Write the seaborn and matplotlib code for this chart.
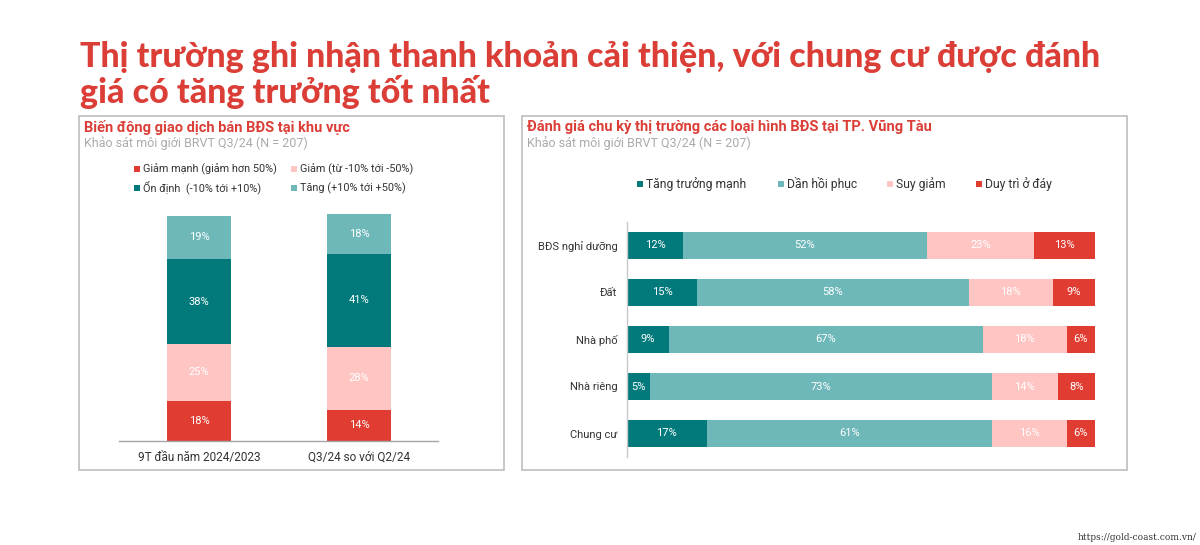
import matplotlib
matplotlib.use("Agg")
import matplotlib.pyplot as plt
import seaborn as sns
import pandas as pd
import numpy as np
from matplotlib.patches import Rectangle

# ---------------- data ----------------
left_categories = ["9T đầu năm 2024/2023", "Q3/24 so với Q2/24"]
left_series = ["Giảm mạnh (giảm hơn 50%)", "Giảm (từ -10% tới -50%)",
               "Ổn định  (-10% tới +10%)", "Tăng (+10% tới +50%)"]
left_giam_manh = [18, 14]
left_giam = [25, 28]
left_on_dinh = [38, 41]
left_tang = [19, 18]

right_categories = ["BĐS nghỉ dưỡng", "Đất", "Nhà phố", "Nhà riêng", "Chung cư"]
right_series = ["Tăng trưởng mạnh", "Dần hồi phục", "Suy giảm", "Duy trì ở đáy"]
right_tang_truong = [12, 15, 9, 5, 17]
right_hoi_phuc = [52, 58, 67, 73, 61]
right_suy_giam = [23, 18, 18, 14, 16]
right_duy_tri = [13, 9, 6, 8, 6]

title_text = "Thị trường ghi nhận thanh khoản cải thiện, với chung cư được đánh\ngiá có tăng trưởng tốt nhất"
left_title = "Biến động giao dịch bán BĐS tại khu vực"
right_title = "Đánh giá chu kỳ thị trường các loại hình BĐS tại TP. Vũng Tàu"
sub_title = "Khảo sát môi giới BRVT Q3/24 (N = 207)"
source_text = "https://gold-coast.com.vn/"

# ---------------- style ----------------
C_RED = "#E03C31"
C_PINK = "#FEC5C3"
C_DTEAL = "#027A7B"
C_LTEAL = "#6EB8BA"
C_TITLE = "#DB3E37"

sns.set_theme(style="white")
plt.rcParams["font.family"] = ["Roboto", "DejaVu Sans"]

W, H = 1200, 545
fig = plt.figure(figsize=(12, 5.45), dpi=100)
fig.patch.set_facecolor("white")


def rect(x0, y0, x1, y1):
    return [x0 / W, 1 - y1 / H, (x1 - x0) / W, (y1 - y0) / H]


def fx(x):
    return x / W


def fy(y):
    return 1 - y / H


# panel boxes
for (x0, y0, x1, y1) in [(79, 116, 504, 470), (522, 116, 1127, 470)]:
    fig.patches.append(Rectangle((fx(x0), fy(y1)), (x1 - x0) / W, (y1 - y0) / H,
                                 transform=fig.transFigure, fill=False,
                                 edgecolor="#BDBDBD", linewidth=1.2))

# main title
fig.text(fx(80), fy(41), title_text, ha="left", va="top", color=C_TITLE,
         fontsize=24.5, fontweight=900, family=["Lato", "DejaVu Sans"],
         linespacing=1.08)

# panel titles
fig.text(fx(84), fy(127), left_title, ha="left", va="center", color=C_TITLE,
         fontsize=10.5, fontweight="bold")
fig.text(fx(84), fy(143), sub_title, ha="left", va="center", color="#ABABAB",
         fontsize=9)
fig.text(fx(527), fy(127), right_title, ha="left", va="center", color=C_TITLE,
         fontsize=10.5, fontweight="bold")
fig.text(fx(527), fy(143), sub_title, ha="left", va="center", color="#ABABAB",
         fontsize=9)

fig.text(fx(1197), fy(538), source_text, ha="right", va="center", color="#333333",
         fontsize=6.5, family=["DejaVu Serif"])


def legend_item(x_marker, y, color, label, size=8):
    s = 6
    fig.patches.append(Rectangle((fx(x_marker - s / 2), fy(y + s / 2)), s / W, s / H,
                                 transform=fig.transFigure, facecolor=color,
                                 edgecolor="none"))
    fig.text(fx(x_marker + 6), fy(y), label, ha="left", va="center",
             color="#333333", fontsize=size)


left_colors = [C_RED, C_PINK, C_DTEAL, C_LTEAL]
legend_item(137, 169, left_colors[0], left_series[0], 7.8)
legend_item(294, 169, left_colors[1], left_series[1], 7.8)
legend_item(137, 188, left_colors[2], left_series[2], 7.8)
legend_item(294, 188, left_colors[3], left_series[3], 7.8)

right_colors = [C_DTEAL, C_LTEAL, C_PINK, C_RED]
for xm, c, lab in zip([640, 781, 890, 979], right_colors, right_series):
    legend_item(xm, 184, c, lab, 8.7)

# ---------------- left chart (stacked columns) ----------------
axL = fig.add_axes(rect(119, 215, 438, 441))
left_vals = [left_giam_manh, left_giam, left_on_dinh, left_tang]
cum = np.cumsum(np.array(left_vals, dtype=float), axis=0)
dfL = pd.DataFrame({"cat": left_categories})
for i in range(3, -1, -1):
    dfL["v"] = cum[i]
    sns.barplot(data=dfL, x="cat", y="v", color=left_colors[i], width=0.4,
                saturation=1, ax=axL, linewidth=0, order=left_categories)
for i in range(4):
    for j in range(2):
        bottom = cum[i][j] - left_vals[i][j]
        axL.text(j, bottom + left_vals[i][j] / 2, f"{left_vals[i][j]}%",
                 ha="center", va="center", color="white", fontsize=8)
axL.set_xlim(-0.5, 1.494)
axL.set_ylim(0, 100.5)
axL.set_xlabel("")
axL.set_ylabel("")
axL.set_yticks([])
axL.tick_params(axis="x", length=0, pad=7, labelsize=8.5, colors="#333333")
for s in ["top", "right", "left"]:
    axL.spines[s].set_visible(False)
axL.spines["bottom"].set_color("#A6A6A6")
axL.spines["bottom"].set_linewidth(1)
axL.patch.set_alpha(0)
for b in axL.patches:
    b.set_clip_on(False)

# ---------------- right chart (stacked horizontal bars) ----------------
axR = fig.add_axes(rect(627, 222, 1095, 457))
right_vals = [right_tang_truong, right_hoi_phuc, right_suy_giam, right_duy_tri]
cumR = np.cumsum(np.array(right_vals, dtype=float), axis=0)
dfR = pd.DataFrame({"cat": right_categories})
for i in range(3, -1, -1):
    dfR["v"] = cumR[i]
    sns.barplot(data=dfR, y="cat", x="v", color=right_colors[i], width=0.58,
                saturation=1, ax=axR, linewidth=0, orient="h",
                order=right_categories)
for i in range(4):
    for j in range(5):
        left = cumR[i][j] - right_vals[i][j]
        axR.text(left + right_vals[i][j] / 2, j, f"{right_vals[i][j]}%",
                 ha="center", va="center", color="white", fontsize=8)
axR.set_ylim(4.5, -0.5)
axR.set_xlim(0, 100)
axR.set_xlabel("")
axR.set_ylabel("")
axR.set_xticks([])
axR.tick_params(axis="y", length=0, pad=7, labelsize=8, colors="#333333")
for s in ["top", "right", "bottom"]:
    axR.spines[s].set_visible(False)
axR.spines["left"].set_color("#C8C8C8")
axR.spines["left"].set_linewidth(1)
axR.patch.set_alpha(0)
for b in axR.patches:
    b.set_clip_on(False)

fig.savefig("out.png", dpi=100, facecolor="white")
